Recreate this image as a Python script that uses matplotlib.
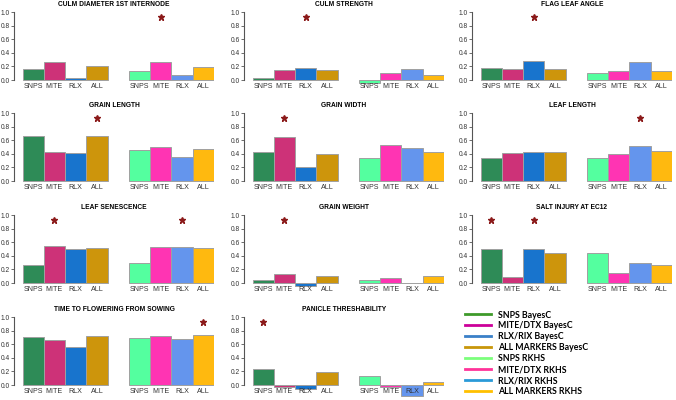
import numpy as np
import matplotlib
matplotlib.use('Agg')
import matplotlib.pyplot as plt
from matplotlib.lines import Line2D

plt.rcParams['font.family'] = ['Liberation Sans', 'DejaVu Sans']

# data
traits = ['CULM DIAMETER 1ST INTERNODE', 'CULM STRENGTH', 'FLAG LEAF ANGLE',
          'GRAIN LENGTH', 'GRAIN WIDTH', 'LEAF LENGTH',
          'LEAF SENESCENCE', 'GRAIN WEIGHT', 'SALT INJURY AT EC12',
          'TIME TO FLOWERING FROM SOWING', 'PANICLE THRESHABILITY']
markers = ['SNPS', 'MITE', 'RLX', 'ALL']

bayesc = [
    [0.157, 0.26, 0.025, 0.205],
    [0.025, 0.15, 0.17, 0.14],
    [0.18, 0.16, 0.285, 0.16],
    [0.657, 0.42, 0.41, 0.657],
    [0.43, 0.64, 0.21, 0.40],
    [0.34, 0.41, 0.43, 0.43],
    [0.27, 0.545, 0.50, 0.51],
    [0.045, 0.137, -0.04, 0.108],
    [0.495, 0.093, 0.495, 0.446],
    [0.71, 0.66, 0.565, 0.715],
    [0.24, -0.025, -0.06, 0.196],
]
rkhs = [
    [0.13, 0.265, 0.07, 0.19],
    [-0.045, 0.11, 0.155, 0.08],
    [0.10, 0.13, 0.265, 0.13],
    [0.45, 0.50, 0.355, 0.47],
    [0.34, 0.527, 0.49, 0.42],
    [0.34, 0.39, 0.52, 0.44],
    [0.29, 0.525, 0.535, 0.515],
    [0.05, 0.078, -0.005, 0.10],
    [0.446, 0.152, 0.30, 0.265],
    [0.686, 0.725, 0.67, 0.735],
    [0.13, -0.035, -0.155, 0.05],
]
# stars: (model, marker index)
stars = [
    [('RKHS', 1)],
    [('BayesC', 2)],
    [('BayesC', 2)],
    [('BayesC', 3)],
    [('BayesC', 1)],
    [('RKHS', 2)],
    [('BayesC', 1), ('RKHS', 2)],
    [('BayesC', 1)],
    [('BayesC', 0), ('BayesC', 2)],
    [('RKHS', 3)],
    [('BayesC', 0)],
]

colors_bc = ['#2E8B57', '#CD3278', '#1874CD', '#CD950C']
colors_rk = ['#54FF9F', '#FF34B3', '#6495ED', '#FFB90F']

legend_labels = ['SNPS BayesC', 'MITE/DTX BayesC', 'RLX/RIX BayesC', 'ALL MARKERS BayesC',
                 'SNPS RKHS', 'MITE/DTX RKHS', 'RLX/RIX RKHS', 'ALL MARKERS RKHS']
legend_colors = ['#3E9A2A', '#CC0099', '#3A80C8', '#C8960A',
                 '#7CFF7C', '#FF3399', '#2A9AD8', '#FFC000']

fig = plt.figure(figsize=(6.76, 4.0), dpi=100)

lefts = [14, 244, 472]
zeros = [80, 181, 283, 385]
unit = 68.0
ylo, yhi = -0.22, 1.02

x_bc = np.arange(4)
x_rk = np.arange(4) + 5

for i, t in enumerate(traits):
    r, c = divmod(i, 3)
    bottom_px = zeros[r] - ylo * unit
    ax = fig.add_axes([lefts[c] / 676, (400 - bottom_px) / 400,
                       200 / 676, (yhi - ylo) * unit / 400])
    # spine position first, it resets the ticks
    ax.spines['bottom'].set_position(('data', 0))
    ax.spines['bottom'].set_visible(False)
    for s in ['top', 'right']:
        ax.spines[s].set_visible(False)
    ax.spines['left'].set_bounds(0, 1)
    ax.spines['left'].set_color('#555555')
    ax.spines['left'].set_linewidth(0.8)

    ax.bar(x_bc, bayesc[i], width=1.0, color=colors_bc, edgecolor='#A0A0A0', linewidth=0.7)
    ax.bar(x_rk, rkhs[i], width=1.0, color=colors_rk, edgecolor='#A0A0A0', linewidth=0.7)
    for model, k in stars[i]:
        xs = x_bc[k] if model == 'BayesC' else x_rk[k]
        ax.plot(xs, 0.93, marker='*', color='#8B1A1A', markersize=4.5, linestyle='none')
    ax.set_xlim(-0.9, 8.5)
    ax.set_ylim(ylo, yhi)
    ax.set_xticks(list(x_bc) + list(x_rk))
    ax.set_xticklabels(markers * 2)
    ax.set_yticks([0, 0.2, 0.4, 0.6, 0.8, 1.0])
    ax.set_yticklabels(['0.0', '0.2', '0.4', '0.6', '0.8', '1.0'])
    ax.tick_params(axis='x', length=0, pad=2, labelsize=5.1, labelcolor='#333333')
    ax.tick_params(axis='y', length=2, width=0.6, pad=1, color='#555555',
                   labelsize=4.8, labelcolor='#333333')
    ax.set_title(t, fontsize=4.8, fontweight='bold', pad=3)
    ax.patch.set_visible(False)

handles = [Line2D([0], [0], color=col, linewidth=2) for col in legend_colors]
fig.legend(handles, legend_labels, loc='upper left', bbox_to_anchor=(461 / 676, 1 - 307 / 400),
           frameon=False, prop={'family': 'Lato', 'weight': 'bold', 'size': 6.3},
           handlelength=3.0, handletextpad=0.8, labelspacing=0.22, borderaxespad=0)

fig.savefig('out.png', dpi=100)
